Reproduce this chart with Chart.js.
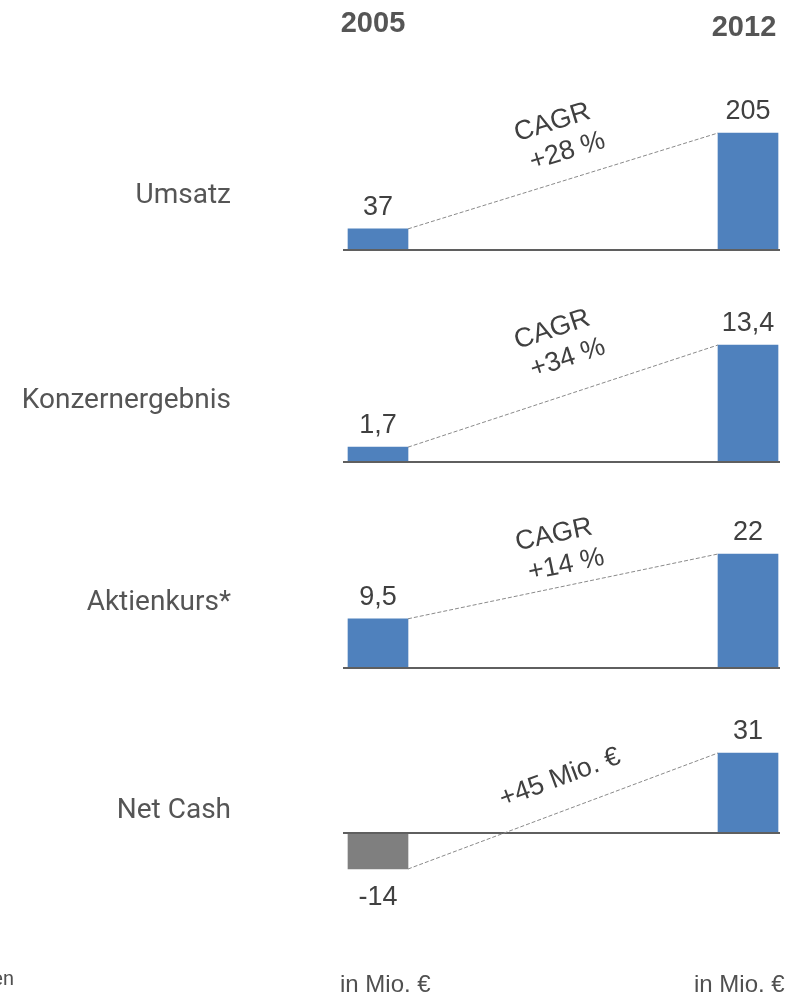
<!DOCTYPE html>
<html>
<head>
<meta charset="utf-8">
<script src="https://cdn.jsdelivr.net/npm/chart.js@4"></script>
<style>
  body { margin: 0; background: #fff; width: 794px; height: 999px; position: relative; overflow: hidden; }
  canvas { position: absolute; left: 0; }
</style>
</head>
<body>
<script>
// data
const metrics = ['Umsatz', 'Konzernergebnis', 'Aktienkurs*', 'Net Cash'];
const years = ['2005', '2012'];
const values2005 = [37, 1.7, 9.5, -14];
const values2012 = [205, 13.4, 22, 31];
const changeNotes = [['CAGR', '+28 %'], ['CAGR', '+34 %'], ['CAGR', '+14 %'], ['+45 Mio. €']];
const unitLabel = 'in Mio. €';

// layout of the four panels (page pixels)
const bands = [[0, 280], [280, 490], [490, 700], [700, 999]];
const plotTop = [133, 345, 554, 753];
const plotBottom = [250, 462, 668, 869];
const labelBaseline = [203, 408, 610, 818];
const noteShift = [4, -1, -4, 25];

const valueFont = '27px "Liberation Sans", Arial, sans-serif';
const fmt = v => String(v).replace('.', ',');

const panelDecor = {
  id: 'panelDecor',
  afterDatasetsDraw(chart, args, opts) {
    const ctx = chart.ctx, x = chart.scales.x, y = chart.scales.y;
    const i = opts.index, top = bands[i][0];
    const vals = chart.data.datasets[0].data;
    const y0 = y.getPixelForValue(0);

    ctx.save();
    // zero line
    ctx.strokeStyle = '#5f5f5f';
    ctx.lineWidth = 2;
    ctx.beginPath();
    ctx.moveTo(x.left - 35, y0);
    ctx.lineTo(x.right + 32, y0);
    ctx.stroke();

    // dashed connector between the bar ends
    const xa = x.getPixelForValue(0) + 30, ya = y.getPixelForValue(vals[0]);
    const xb = x.getPixelForValue(1) - 30, yb = y.getPixelForValue(vals[1]);
    ctx.strokeStyle = '#8a8a8a';
    ctx.lineWidth = 1;
    ctx.setLineDash([4, 2]);
    ctx.beginPath();
    ctx.moveTo(xa, ya);
    ctx.lineTo(xb, yb);
    ctx.stroke();
    ctx.setLineDash([]);

    // value labels
    ctx.font = valueFont;
    ctx.fillStyle = '#404040';
    ctx.textAlign = 'center';
    ctx.textBaseline = 'alphabetic';
    vals.forEach((v, k) => {
      const px = x.getPixelForValue(k), py = y.getPixelForValue(v);
      ctx.fillText(fmt(v), px, v >= 0 ? py - 14 : py + 36);
    });

    // rotated note along the connector
    const ang = Math.atan2(yb - ya, xb - xa);
    const lines = changeNotes[i];
    ctx.save();
    ctx.translate(560, y.top + noteShift[i]);
    ctx.rotate(ang);
    ctx.textBaseline = 'middle';
    if (lines.length === 2) {
      ctx.fillText(lines[0], -3, -16);
      ctx.fillText(lines[1], 3, 16);
    } else {
      ctx.fillText(lines[0], 0, 0);
    }
    ctx.restore();

    // row label
    ctx.font = '28px Roboto, sans-serif';
    ctx.fillStyle = '#555555';
    ctx.textAlign = 'right';
    ctx.textBaseline = 'alphabetic';
    ctx.fillText(metrics[i], 231, labelBaseline[i] - top);

    if (i === 0) {
      ctx.font = 'bold 29px "Liberation Sans", Arial, sans-serif';
      ctx.textAlign = 'center';
      ctx.fillText(years[0], 373, 32 - top);
      ctx.fillText(years[1], 744, 36 - top);
    }
    if (i === metrics.length - 1) {
      ctx.font = '24px "Liberation Sans", Arial, sans-serif';
      ctx.fillStyle = '#505050';
      ctx.textAlign = 'left';
      ctx.fillText(unitLabel, 340, 992 - top);
      ctx.fillText(unitLabel, 694, 992 - top);
      ctx.font = '20px Roboto, sans-serif';
      ctx.textAlign = 'right';
      ctx.fillText('en', 14, 985 - top);
    }
    ctx.restore();
  }
};

metrics.forEach((name, i) => {
  const canvas = document.createElement('canvas');
  canvas.width = 794;
  canvas.height = bands[i][1] - bands[i][0];
  canvas.style.top = bands[i][0] + 'px';
  document.body.appendChild(canvas);

  const vals = [values2005[i], values2012[i]];
  new Chart(canvas, {
    type: 'bar',
    data: {
      labels: years,
      datasets: [{
        label: name,
        data: vals,
        backgroundColor: vals.map(v => v < 0 ? '#7f7f7f' : '#4f81bd'),
        barThickness: 60,
        clip: false
      }]
    },
    options: {
      responsive: false,
      animation: false,
      layout: {
        padding: {
          top: plotTop[i] - bands[i][0],
          bottom: bands[i][1] - plotBottom[i],
          left: 378,
          right: 46
        }
      },
      scales: {
        x: { type: 'category', offset: false, display: false },
        y: { display: false, min: Math.min(0, ...vals), max: Math.max(0, ...vals) }
      },
      plugins: {
        legend: { display: false },
        tooltip: { enabled: false },
        panelDecor: { index: i }
      }
    },
    plugins: [panelDecor]
  });
});
</script>
</body>
</html>
